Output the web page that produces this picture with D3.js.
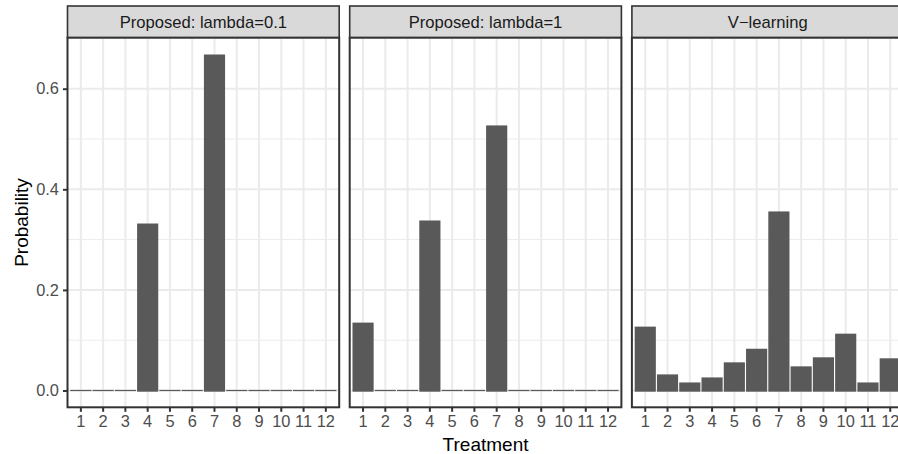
<!DOCTYPE html>
<html>
<head>
<meta charset="utf-8">
<script src="https://cdn.jsdelivr.net/npm/d3@7"></script>
<style>
  body { margin: 0; background: #ffffff; }
  svg { display: block; overflow: hidden; font-family: "Liberation Sans", Arial, sans-serif; }
</style>
</head>
<body>
<div id="chart"></div>
<script>
// data
var treatments = ["1", "2", "3", "4", "5", "6", "7", "8", "9", "10", "11", "12"];
var panelTitles = ["Proposed: lambda=0.1", "Proposed: lambda=1", "V\u2212learning"];
var probLambda01 = [0, 0, 0, 0.332, 0, 0, 0.668, 0, 0, 0, 0, 0];
var probLambda1 = [0.135, 0, 0, 0.338, 0, 0, 0.527, 0, 0, 0, 0, 0];
var probVlearning = [0.127, 0.032, 0.016, 0.026, 0.056, 0.083, 0.356, 0.048, 0.066, 0.113, 0.016, 0.064];
var yTicks = [0, 0.2, 0.4, 0.6];
var yMinorTicks = [0.1, 0.3, 0.5, 0.7];

var seriesList = [probLambda01, probLambda1, probVlearning];

var svgWidth = 898;
var svgHeight = 454;

var margin = { left: 67.5, top: 6 };
var stripHeight = 31.7;
var panelWidth = 271.7;
var panelGap = 10.5;
var panelHeight = 407.3 - margin.top - stripHeight;

var svg = d3.select("#chart")
  .append("svg")
  .attr("width", svgWidth)
  .attr("height", svgHeight);

// y scale shared by all panels, 5% expansion like ggplot
var allValues = probLambda01.concat(probLambda1, probVlearning);
var yMax = d3.max(allValues);
var yPad = yMax * 0.05;
var yScale = d3.scaleLinear()
  .domain([-yPad, yMax + yPad])
  .range([panelHeight, 0]);

// discrete x scale: 0.6 step on each side
var xScale = d3.scaleBand()
  .domain(treatments)
  .range([0, panelWidth])
  .paddingInner(0)
  .paddingOuter(0.1);

var barWidth = xScale.step() * 0.95;

seriesList.forEach(function(values, p) {
  var px = margin.left + p * (panelWidth + panelGap);
  var py = margin.top + stripHeight;

  // strip on top
  var strip = svg.append("g")
    .attr("transform", `translate(${px}, ${margin.top})`);

  strip.append("rect")
    .attr("width", panelWidth)
    .attr("height", stripHeight)
    .attr("fill", "#d9d9d9")
    .attr("stroke", "#333333")
    .attr("stroke-width", 1.6);

  strip.append("text")
    .attr("x", panelWidth / 2)
    .attr("y", 22.3)
    .attr("text-anchor", "middle")
    .style("font-size", "16.6px")
    .style("fill", "#1a1a1a")
    .text(panelTitles[p]);

  var panel = svg.append("g")
    .attr("transform", `translate(${px}, ${py})`);

  panel.append("rect")
    .attr("width", panelWidth)
    .attr("height", panelHeight)
    .attr("fill", "#ffffff");

  // minor grid
  panel.selectAll(".minor")
    .data(yMinorTicks)
    .enter()
    .append("line")
    .attr("x1", 0)
    .attr("x2", panelWidth)
    .attr("y1", d => yScale(d))
    .attr("y2", d => yScale(d))
    .attr("stroke", "#ebebeb")
    .attr("stroke-width", 1);

  // major grid, horizontal
  panel.selectAll(".hmajor")
    .data(yTicks)
    .enter()
    .append("line")
    .attr("x1", 0)
    .attr("x2", panelWidth)
    .attr("y1", d => yScale(d))
    .attr("y2", d => yScale(d))
    .attr("stroke", "#ebebeb")
    .attr("stroke-width", 2);

  // major grid, vertical
  panel.selectAll(".vmajor")
    .data(treatments)
    .enter()
    .append("line")
    .attr("x1", d => xScale(d) + xScale.bandwidth() / 2)
    .attr("x2", d => xScale(d) + xScale.bandwidth() / 2)
    .attr("y1", 0)
    .attr("y2", panelHeight)
    .attr("stroke", "#ebebeb")
    .attr("stroke-width", 2);

  // bars (zero bars still show as a thin line)
  panel.selectAll(".bar")
    .data(values)
    .enter()
    .append("rect")
    .attr("x", (d, i) => xScale(treatments[i]) + (xScale.bandwidth() - barWidth) / 2)
    .attr("width", barWidth)
    .attr("y", d => Math.min(yScale(d), yScale(0) - 0.6))
    .attr("height", d => Math.max(yScale(0) - yScale(d), 0) + 1.2)
    .attr("fill", "#595959");

  panel.append("rect")
    .attr("width", panelWidth)
    .attr("height", panelHeight)
    .attr("fill", "none")
    .attr("stroke", "#333333")
    .attr("stroke-width", 2);

  // x axis
  var xAxis = panel.append("g")
    .attr("transform", `translate(0, ${panelHeight})`)
    .call(d3.axisBottom(xScale).tickSize(4.5).tickPadding(4));

  xAxis.select(".domain").remove();
  xAxis.selectAll("line").attr("stroke", "#333333").attr("stroke-width", 2);
  xAxis.selectAll("text")
    .attr("fill", "#4d4d4d")
    .style("font-size", "16.4px")
    .style("font-family", "Liberation Sans, Arial, sans-serif");

  // y axis only on first panel
  if (p === 0) {
    var yAxis = panel.append("g")
      .call(d3.axisLeft(yScale).tickValues(yTicks).tickFormat(d3.format(".1f")).tickSize(4.5).tickPadding(4));

    yAxis.select(".domain").remove();
    yAxis.selectAll("line").attr("stroke", "#333333").attr("stroke-width", 2);
    yAxis.selectAll("text")
      .attr("fill", "#4d4d4d")
      .style("font-size", "16.4px")
      .style("font-family", "Liberation Sans, Arial, sans-serif");
  }
});

// axis titles
svg.append("text")
  .attr("x", margin.left + 1.5 * panelWidth + panelGap)
  .attr("y", 451)
  .attr("text-anchor", "middle")
  .style("font-size", "19px")
  .style("fill", "#000000")
  .text("Treatment");

svg.append("text")
  .attr("transform", `translate(28, ${margin.top + stripHeight + panelHeight / 2}) rotate(-90)`)
  .attr("text-anchor", "middle")
  .style("font-size", "19px")
  .style("fill", "#000000")
  .text("Probability");
</script>
</body>
</html>
